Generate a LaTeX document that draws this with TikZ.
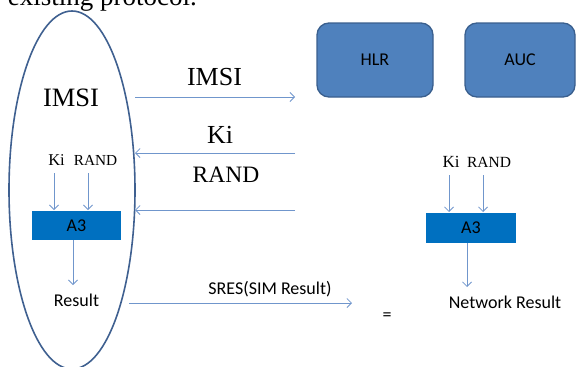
\documentclass[tikz,border=0pt]{standalone}
\usepackage{fontspec}
\setmainfont{Liberation Serif}
\newfontfamily\calib{Carlito}
\usetikzlibrary{arrows.meta,shapes.geometric}
\definecolor{arrblue}{HTML}{7096CC}
\definecolor{ellblue}{HTML}{3F6090}
\definecolor{boxfill}{HTML}{4F81BD}
\definecolor{boxline}{HTML}{3A5F8E}
\definecolor{athree}{HTML}{0070C0}
\begin{document}
\begin{tikzpicture}[x=1pt,y=-1pt,
  arr/.style={draw=arrblue, line width=0.8pt, -{Straight Barb[length=4.5pt,width=9pt]}},
  sbig/.style={font=\fontsize{26}{26}\selectfont, inner sep=0pt, anchor=base},
  ssmall/.style={font=\fontsize{16}{16}\selectfont, inner sep=0pt, anchor=base},
  sans/.style={font=\calib\fontsize{18}{18}\selectfont, inner sep=0pt, anchor=base},
  roundbox/.style={draw=boxline, line width=1.3pt, fill=boxfill, rounded corners=12pt,
    font=\calib\fontsize{18}{18}\selectfont, inner sep=0pt},
  athreebox/.style={fill=athree, font=\calib\fontsize{18}{18}\selectfont, inner sep=0pt}
]
\useasboundingbox (0,0) rectangle (576,367);
\clip (0,0) rectangle (576,367);

% cut-off caption line at top
\node[font=\fontsize{27}{27}\selectfont, inner sep=0pt, anchor=base east] (cap) at (197,5) {r existing protocol.};

% SIM ellipse
\node[ellipse, draw=ellblue, line width=1.6pt, minimum width=126pt, minimum height=358pt, inner sep=0pt] (sim) at (72,190) {};

% network boxes
\node[roundbox, minimum width=116pt, minimum height=74pt] (hlr) at (375,60) {HLR};
\node[roundbox, minimum width=110pt, minimum height=74pt] (auc) at (520,60) {AUC};

% A3 boxes
\node[athreebox, minimum width=89pt, minimum height=29pt] (a3l) at (76.5,225.5) {A3};
\node[athreebox, minimum width=90pt, minimum height=30pt] (a3r) at (471,228) {A3};

% texts
\node[sbig, font=\fontsize{26.5}{26.5}\selectfont] (imsiin) at (71,106) {IMSI};
\node[sbig] (imsilab) at (214.5,85) {IMSI};
\node[sbig] (kilab) at (220,143) {Ki};
\node[sbig, font=\fontsize{23.5}{23.5}\selectfont] (randlab) at (226,182) {RAND};
\node[ssmall, font=\fontsize{16.5}{16.5}\selectfont] (kil) at (56.5,165) {Ki};
\node[ssmall, font=\fontsize{15.3}{15.3}\selectfont] (randl) at (95.5,165) {RAND};
\node[ssmall, font=\fontsize{17}{17}\selectfont] (kir) at (451,167) {Ki};
\node[ssmall, font=\fontsize{15.5}{15.5}\selectfont] (randr) at (489,167) {RAND};
\node[sans] (res) at (76.5,306) {Result};
\node[sans] (sres) at (270,294) {SRES(SIM Result)};
\node[sans] (netres) at (505,308) {Network Result};
\node[sans, anchor=center] (eq) at (387,317) {=};

% connector end points
\coordinate (imsiA) at (135,97);  \coordinate (imsiB) at (295,97);
\coordinate (kiA) at (295,153);   \coordinate (kiB) at (135,153);
\coordinate (randA) at (295,210); \coordinate (randB) at (135,210);
\coordinate (sresA) at (129,303); \coordinate (sresB) at (352,303);
\coordinate (kilA) at (54,173);   \coordinate (kilB) at (54,210);
\coordinate (randlA) at (88,173); \coordinate (randlB) at (88,210);
\coordinate (downlA) at (73,240); \coordinate (downlB) at (73,285);
\coordinate (kirA) at (449,175);  \coordinate (kirB) at (449,212);
\coordinate (randrA) at (483,175);\coordinate (randrB) at (483,212);
\coordinate (downrA) at (467,243);\coordinate (downrB) at (467,287);

\draw[arr] (imsiA) -- (imsiB);
\draw[arr] (kiA) -- (kiB);
\draw[arr] (randA) -- (randB);
\draw[arr] (sresA) -- (sresB);
\draw[arr] (kilA) -- (kilB);
\draw[arr] (randlA) -- (randlB);
\draw[arr] (downlA) -- (downlB);
\draw[arr] (kirA) -- (kirB);
\draw[arr] (randrA) -- (randrB);
\draw[arr] (downrA) -- (downrB);
\end{tikzpicture}
\end{document}
